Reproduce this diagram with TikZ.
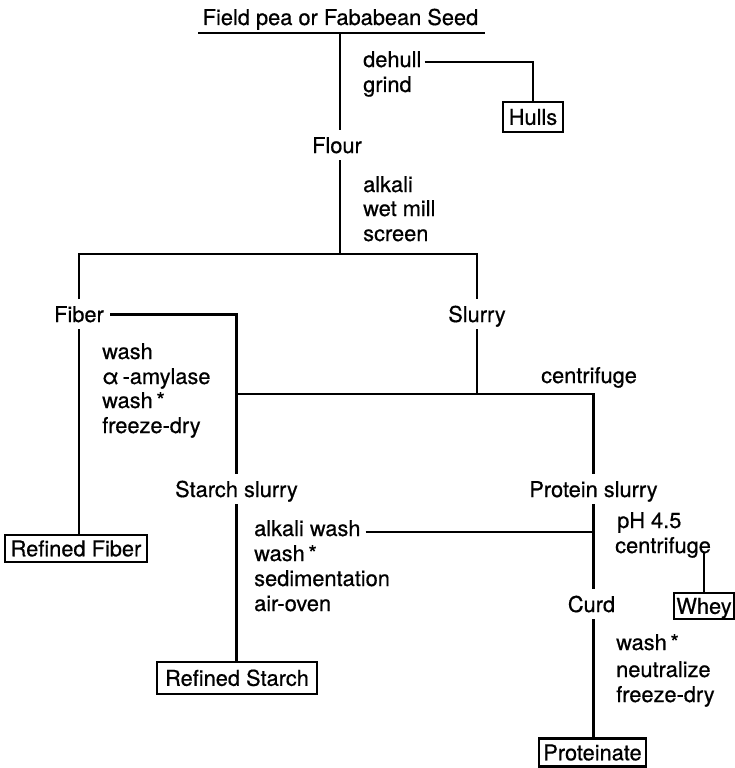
\documentclass[tikz,border=0pt]{standalone}
\usepackage{fontspec}
\setmainfont{TeX Gyre Heros}[FakeBold=0.6]
\begin{document}
\begin{tikzpicture}[x=1pt,y=-1pt,
  every node/.style={font=\fontsize{21.8}{25}\selectfont, text height=15.6pt, text depth=0pt},
  lbl/.style={inner xsep=0pt, inner ysep=7pt, anchor=base},
  stp/.style={inner sep=0pt, anchor=base west},
  res/.style={draw, line width=2.6pt, inner sep=0pt},
  ln/.style={line width=2.8pt}]
\useasboundingbox (0,0) rectangle (735,768);
% nodes
\node[lbl] (seed) at (340.5,25) {Field pea or Fababean Seed};
\coordinate (tl) at (198,33);
\coordinate (tr) at (485,33);
\coordinate (s1) at (340,33);
\node[stp] (dehull) at (363,67) {dehull};
\node[stp] (grind) at (363,92) {grind};
\node[res, minimum width=60pt, minimum height=30pt] (hulls) at (533,117) {Hulls};
\node[lbl] (flour) at (337,153) {Flour};
\node[stp] (alkali) at (363,192) {alkali};
\node[stp] (wetmill) at (363,216) {wet mill};
\node[stp] (screen) at (363,241) {screen};
\coordinate (j1) at (340,254);
\node[lbl] (fiber) at (79,322) {Fiber};
\node[lbl] (slurry) at (477,322) {Slurry};
\node[stp] (washa) at (102,359) {wash};
\node[stp] (amyl) at (102,384) {α\,-amylase};
\node[stp] (washb) at (102,408) {wash\,*};
\node[stp] (fdrya) at (102,433) {freeze-dry};
\coordinate (j2) at (236.5,394);
\node[stp] (centa) at (541,383) {centrifuge};
\node[lbl] (starch) at (236.5,497) {Starch slurry};
\node[lbl] (protein) at (593.5,497) {Protein slurry};
\node[res, minimum width=142pt, minimum height=27pt] (rfiber) at (76,548.5) {Refined Fiber};
\node[stp] (alkwash) at (254,536) {alkali wash};
\node[stp] (washc) at (254,561) {wash\,*};
\node[stp] (sedim) at (254,586) {sedimentation};
\node[stp] (airoven) at (254,611) {air-oven};
\node[res, minimum width=160pt, minimum height=32pt] (rstarch) at (237,678) {Refined Starch};
\node[stp] (ph) at (617,528) {pH 4.5};
\node[stp] (centb) at (615,553) {centrifuge};
\node[lbl] (curd) at (591.5,612) {Curd};
\node[res, minimum width=60pt, minimum height=26pt] (whey) at (704,606) {Whey};
\node[stp] (washd) at (616,650) {wash\,*};
\node[stp] (neutr) at (616,677) {neutralize};
\node[stp] (fdryb) at (616,702) {freeze-dry};
\node[res, minimum width=107pt, minimum height=28pt] (prot) at (592.5,752.5) {Proteinate};
% connectors
\draw[ln] (tl) -- (tr);
\draw[ln] (s1) -- (s1 |- flour.north);
\coordinate (dh) at ([shift={(3pt,5pt)}]dehull.base east);
\draw[ln] (dh) -| (hulls.north);
\draw[ln] (flour.south -| j1) -- (j1);
\draw[ln] (fiber.north) |- (j1) -| (slurry.north);
\draw[ln] ([xshift=6pt]fiber.east) -| (starch.north);
\draw[ln] (slurry.south) -- (slurry.south |- j2);
\draw[ln] (j2) -| (protein.north);
\draw[ln] (fiber.south) -- (fiber.south |- rfiber.north);
\draw[ln] (starch.south) -- (starch.south |- rstarch.north);
\coordinate (aw) at ([shift={(5pt,4pt)}]alkwash.base east);
\draw[ln] (aw) -- (aw -| protein.south);
\draw[ln] (protein.south) -- (protein.south |- curd.north);
\draw[ln] (curd.south -| protein.south) -- (prot.north -| protein.south);
\draw[ln] (whey.north) -- (whey.north |- centb.south);
\end{tikzpicture}
\end{document}
